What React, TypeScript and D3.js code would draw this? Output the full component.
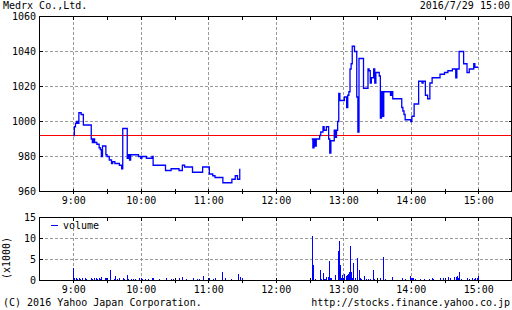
import React from "react";
import * as d3 from "d3";

const title = "Medrx Co.,Ltd.";
const stamp = "2016/7/29 15:00";
const copyright = "(C) 2016 Yahoo Japan Corporation.";
const source = "http://stocks.finance.yahoo.co.jp";
const prevClose = 992;

const amTimes = ["9:00","9:01","9:02","9:03","9:04","9:05","9:07","9:09","9:16","9:17","9:18","9:19","9:21","9:23","9:24","9:25","9:26","9:29","9:30","9:32","9:34","9:35","9:37","9:41","9:43","9:44","9:48","9:49","9:50","9:51","9:58","10:00","10:01","10:05","10:10","10:11","10:22","10:27","10:34","10:37","10:39","10:46","10:55","11:01","11:04","11:06","11:13","11:21","11:24","11:26","11:28"];
const amPrices = [992,997,999,1000,999,1005,1004,998,990,988,990,988,987,985,984,980,986,981,980,978,976,977,976,975,973,996,979,981,978,981,980,979,980,979,980,975,972,973,972,975,974,971,974,970,969,968,965,967,969,967,973];

const pmTimes = ["12:32","12:33","12:34","12:35","12:36","12:39","12:40","12:42","12:43","12:45","12:47","12:48","12:49","12:52","12:53","12:54","12:55","12:56","12:57","13:01","13:03","13:04","13:05","13:06","13:07","13:08","13:10","13:12","13:13","13:14","13:18","13:22","13:23","13:24","13:25","13:27","13:28","13:29","13:32","13:33","13:34","13:35","13:36","13:42","13:43","13:44","13:52","13:53","13:54","13:55","14:00","14:01","14:03","14:07","14:10","14:11","14:13","14:15","14:17","14:19","14:26","14:30","14:33","14:37","14:40","14:41","14:43","14:47","14:50","14:52","14:55","14:56","14:57","15:00"];
const pmPrices = [990,985,990,986,990,992,994,997,995,997,990,982,989,995,991,995,1000,1016,1012,1014,1008,1015,1017,1030,1033,1043,1040,1014,994,1036,1019,1030,1029,1022,1025,1030,1022,1028,1026,1002,1017,1003,1017,1015,1017,1013,1008,1006,1004,1001,1000,1003,1010,1023,1022,1023,1015,1013,1022,1025,1027,1028,1029,1030,1025,1030,1040,1033,1028,1030,1030,1033,1031,1031];

const volTimes = ["9:00","9:01","9:02","9:03","9:05","9:06","9:08","9:10","9:11","9:16","9:17","9:18","9:20","9:21","9:23","9:24","9:25","9:28","9:29","9:30","9:33","9:36","9:37","9:39","9:41","9:44","9:45","9:48","9:49","9:51","9:53","9:55","9:58","10:00","10:01","10:04","10:06","10:10","10:11","10:16","10:22","10:27","10:29","10:34","10:37","10:40","10:46","10:50","10:52","10:55","11:01","11:04","11:06","11:12","11:15","11:20","11:26","11:28","11:30",
"12:32","12:33","12:35","12:39","12:40","12:42","12:43","12:44","12:45","12:46","12:47","12:48","12:49","12:53","12:55","12:56","12:57","12:58","12:59","13:00","13:01","13:02","13:03","13:04","13:05","13:06","13:07","13:08","13:09","13:10","13:12","13:14","13:15","13:16","13:18","13:20","13:22","13:24","13:26","13:27","13:33","13:35","13:37","13:43","13:52","13:55","13:59","14:00","14:01","14:02","14:04","14:08","14:12","14:16","14:19","14:20","14:26","14:29","14:30","14:33","14:35","14:38","14:40","14:41","14:42","14:43","14:45","14:50","14:52","14:54","14:56","14:57","14:59","15:00"];
const volValues = [2.9,0.5,0.7,0.3,0.6,0.4,0.5,0.7,0.3,0.6,0.4,0.7,0.5,0.3,0.6,0.4,0.8,0.5,0.7,0.3,2.6,0.4,1.0,0.3,0.5,0.7,0.3,1.2,0.4,0.3,0.3,0.4,0.6,0.5,0.3,0.3,0.4,0.5,0.7,0.4,0.6,0.4,0.3,0.5,0.8,0.3,0.6,0.3,0.4,1.0,0.5,0.4,0.5,2.0,0.6,0.4,1.6,0.8,0.5,
10.5,3.8,0.4,2.4,0.4,1.7,0.4,0.3,0.8,0.8,4.6,0.6,0.5,1.2,7.0,9.3,3.6,0.6,1.4,0.6,1.5,1.0,1.3,1.5,2.0,8.3,2.1,0.6,4.1,0.5,5.3,2.4,0.6,0.4,1.0,0.4,0.4,0.3,2.5,0.4,0.5,5.7,0.4,0.8,0.5,0.4,1.0,0.6,0.5,0.6,0.4,0.4,0.3,0.4,0.5,0.3,0.5,0.6,0.3,0.8,0.5,0.8,0.9,1.0,0.6,2.1,0.4,0.6,0.4,0.5,0.4,0.6,0.5,1.0];

const priceTicks = [960, 980, 1000, 1020, 1040, 1060];
const volTicks = [0, 5, 10, 15];
const hourLabels = ["9:00","10:00","11:00","12:00","13:00","14:00","15:00"];

const toMin = (t: string) => { const [h, m] = t.split(":").map(Number); return h * 60 + m; };

const L = 39.5, R = 511.5;
const PT = 16.5, PB = 191.5;
const VT = 217.5, VB = 280.5;
const FONT = "'DejaVu Sans Mono', monospace";
const BLUE = "#0000ff";
const GRID = "#999999";

export default function App() {
  const x = d3.scaleLinear().domain([toMin("8:30"), toMin("15:30")]).range([L, 512]);
  const y = d3.scaleLinear().domain([960, 1060]).range([PB, PT]);
  const yv = d3.scaleLinear().domain([0, 15]).range([VB, VT]);
  const line = d3.line<[number, number]>().x(d => x(d[0])).y(d => y(d[1])).curve(d3.curveStepAfter);
  const am: [number, number][] = amTimes.map((t, i) => [toMin(t), amPrices[i]]);
  const pm: [number, number][] = pmTimes.map((t, i) => [toMin(t), pmPrices[i]]);
  const hours = hourLabels.map(toMin);
  const halfTicks = d3.range(toMin("9:00"), toMin("15:00") + 1, 30);
  const text = { fontFamily: FONT, fontSize: 10, fill: "#000" } as const;

  const panel = (top: number, bottom: number, yt: number[], ys: (v: number) => number) => (
    <g>
      {yt.filter(v => Math.abs(ys(v) - top) > 1 && Math.abs(ys(v) - bottom) > 1).map(v => (
        <line key={"g" + v} x1={L} x2={R} y1={ys(v)} y2={ys(v)} stroke={GRID} strokeDasharray="3,2" shapeRendering="crispEdges" />
      ))}
      {hours.map(h => (
        <line key={"v" + h} x1={Math.round(x(h)) + 0.5} x2={Math.round(x(h)) + 0.5} y1={top} y2={bottom} stroke={GRID} strokeDasharray="3,2" shapeRendering="crispEdges" />
      ))}
      {halfTicks.map(h => (
        <g key={"t" + h}>
          <line x1={Math.round(x(h)) + 0.5} x2={Math.round(x(h)) + 0.5} y1={top} y2={top + 3} stroke="#000" shapeRendering="crispEdges" />
          <line x1={Math.round(x(h)) + 0.5} x2={Math.round(x(h)) + 0.5} y1={bottom - 3} y2={bottom + 2} stroke="#000" shapeRendering="crispEdges" />
        </g>
      ))}
      {yt.map(v => (
        <g key={"yt" + v}>
          <line x1={L} x2={L + 3} y1={ys(v)} y2={ys(v)} stroke="#000" shapeRendering="crispEdges" />
          <line x1={R - 3} x2={R} y1={ys(v)} y2={ys(v)} stroke="#000" shapeRendering="crispEdges" />
          <text x={36} y={ys(v) + 3.5} textAnchor="end" {...text}>{v}</text>
        </g>
      ))}
      {hourLabels.map((l, i) => (
        <text key={"xl" + l} x={x(hours[i]) + 0.5} y={bottom + 12} textAnchor="middle" {...text}>{l}</text>
      ))}
    </g>
  );

  return (
    <div style={{ position: "absolute", left: 0, top: 0 }}>
      <svg width={512} height={310} style={{ display: "block", background: "#fff" }}>
        <rect x={0} y={0} width={512} height={310} fill="#fff" />
        <text x={3} y={9} {...text}>{title}</text>
        <text x={510} y={9} textAnchor="end" {...text}>{stamp}</text>

        {panel(PT, PB, priceTicks, y)}
        <line x1={L} x2={R} y1={y(prevClose)} y2={y(prevClose)} stroke="#ff0000" shapeRendering="crispEdges" />
        <path d={line(am) || ""} fill="none" stroke={BLUE} strokeWidth={1.3} />
        <path d={line(pm) || ""} fill="none" stroke={BLUE} strokeWidth={1.3} />
        <rect x={L} y={PT} width={R - L} height={PB - PT} fill="none" stroke="#000" shapeRendering="crispEdges" />

        {panel(VT, VB, volTicks, yv)}
        {volTimes.map((t, i) => {
          const xx = Math.round(x(toMin(t)));
          const top = yv(volValues[i]);
          return <rect key={"vb" + i} x={xx} y={top} width={1} height={VB - 0.5 - top} fill={BLUE} shapeRendering="crispEdges" />;
        })}
        <rect x={L} y={VT} width={R - L} height={VB - VT} fill="none" stroke="#000" shapeRendering="crispEdges" />
        <line x1={51} x2={58} y1={225.5} y2={225.5} stroke={BLUE} />
        <text x={63} y={229} {...text}>volume</text>
        <text transform="translate(10,258) rotate(-90)" textAnchor="middle" {...text}>(x1000)</text>

        <text x={3} y={306} {...text}>{copyright}</text>
        <text x={510} y={306} textAnchor="end" {...text}>{source}</text>
      </svg>
    </div>
  );
}
